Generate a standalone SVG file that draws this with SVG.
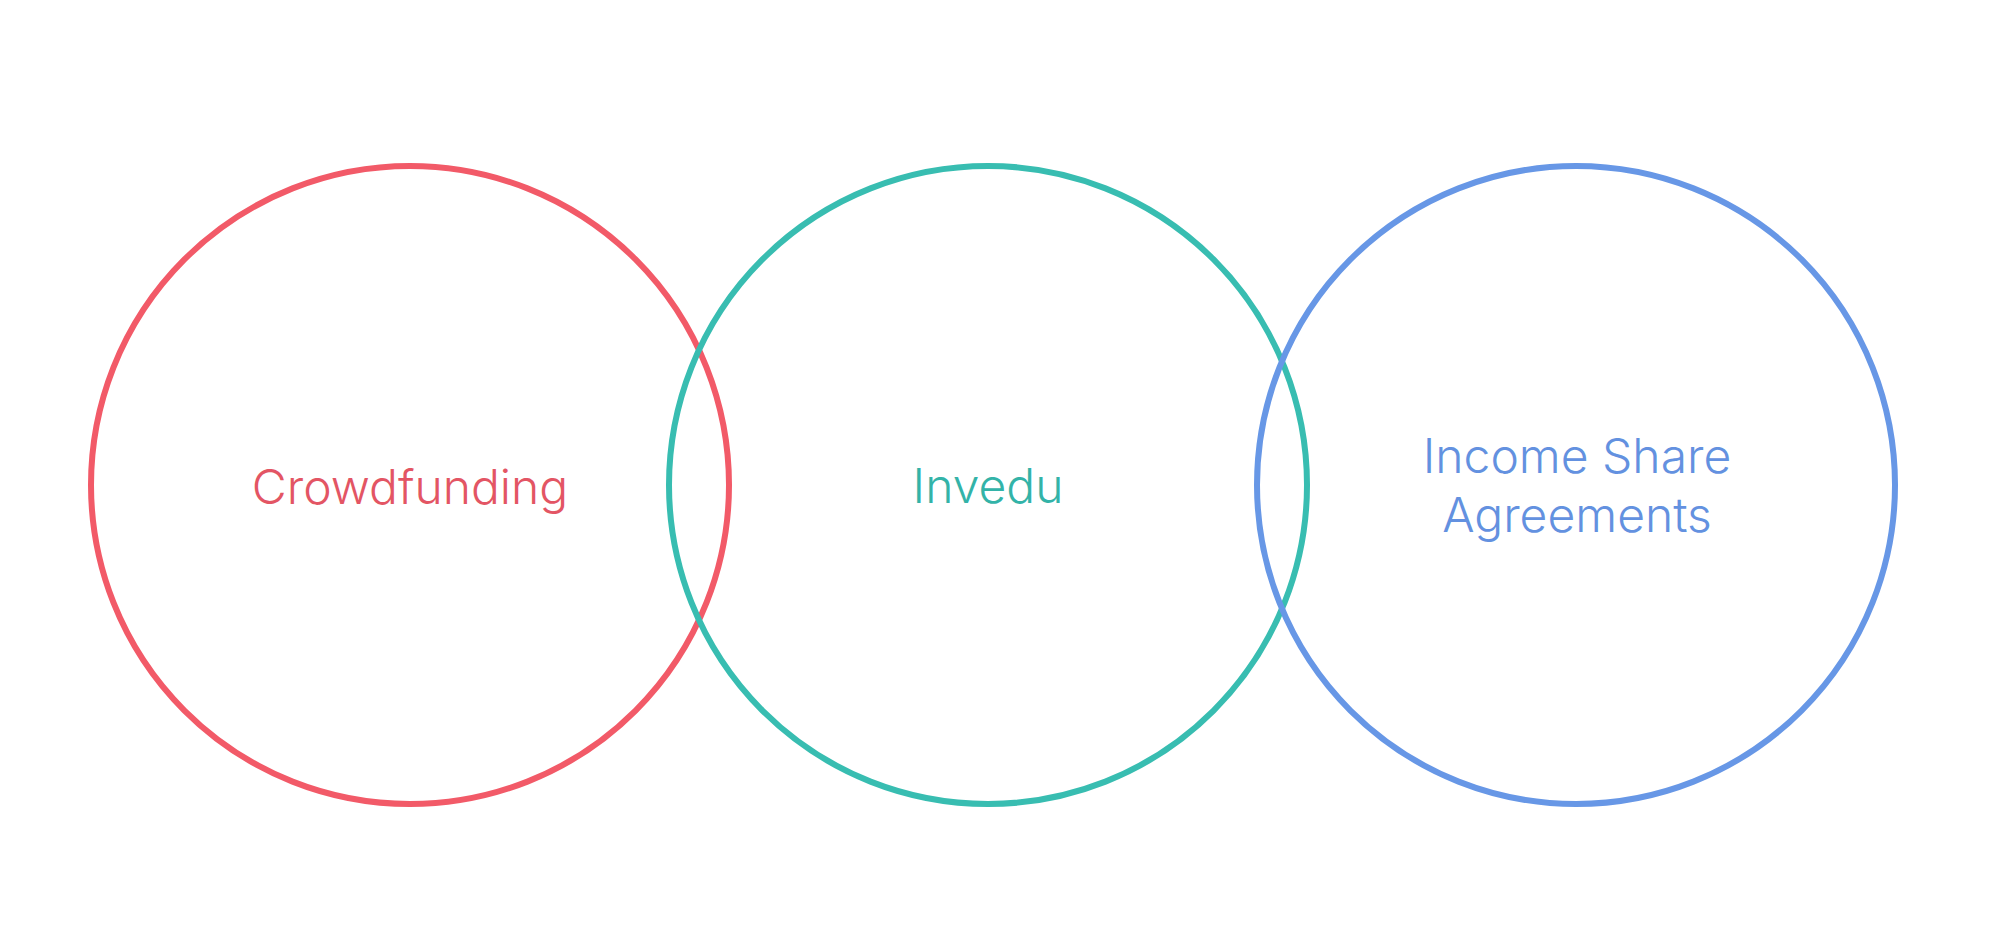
<svg xmlns="http://www.w3.org/2000/svg" width="1992" height="942" viewBox="0 0 1992 942">
  <style>
    .ring { fill: none; stroke-width: 6; }
    .label { font-family: "Inter", "Noto Sans", sans-serif; font-weight: 300; font-size: 48px; text-anchor: middle; }
    .red { stroke: #F25A68; }
    .teal { stroke: #38BDB1; }
    .blue { stroke: #6797E6; }
    .red-t { fill: #E35564; }
    .teal-t { fill: #33B3A8; }
    .blue-t { fill: #6391E0; }
  </style>
  <rect width="1992" height="942" fill="#FFFFFF"/>
  <g id="crowdfunding">
    <circle class="ring red" cx="410" cy="485" r="319"/>
    <text class="label red-t" x="410" y="504">Crowdfunding</text>
  </g>
  <g id="invedu">
    <circle class="ring teal" cx="988" cy="485" r="319"/>
    <text class="label teal-t" x="988" y="503">Invedu</text>
  </g>
  <g id="isa">
    <circle class="ring blue" cx="1576" cy="485" r="319"/>
    <text class="label blue-t" x="1577" y="473">Income Share</text>
    <text class="label blue-t" x="1577" y="532">Agreements</text>
  </g>
  <g id="connectors"/>
</svg>
